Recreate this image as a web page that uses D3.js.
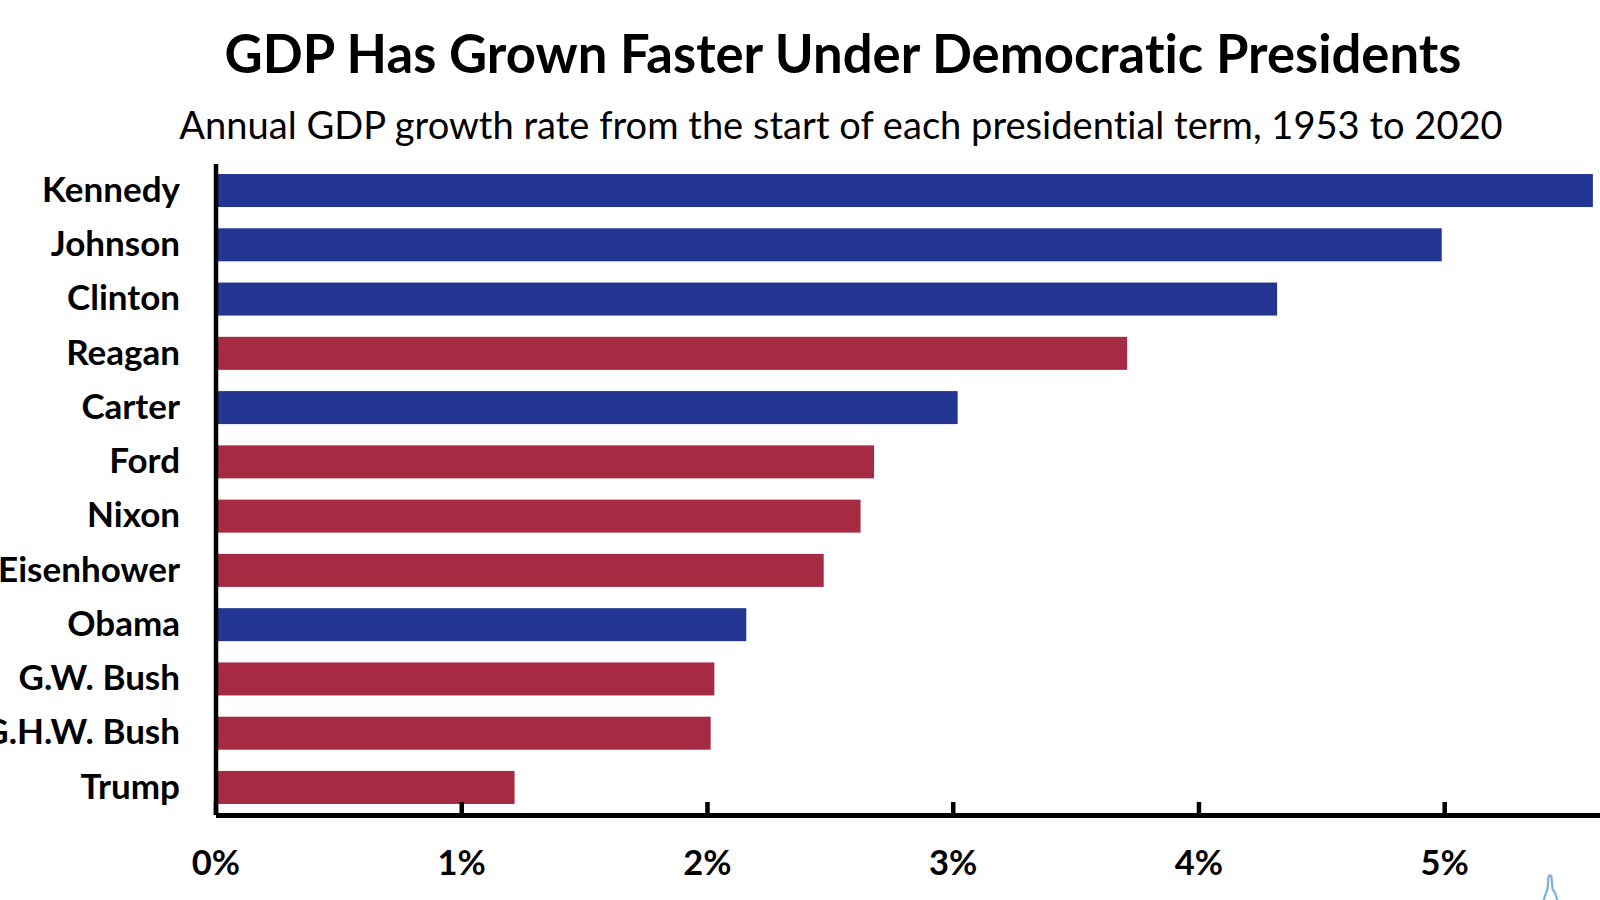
<!DOCTYPE html>
<html>
<head>
<meta charset="utf-8">
<script src="https://cdn.jsdelivr.net/npm/d3@7"></script>
<style>
  html, body { margin: 0; padding: 0; background: #fff; overflow: hidden; }
  text { font-family: Lato, sans-serif; fill: #000; font-variant-ligatures: none; }
</style>
</head>
<body>
<div id="chart"></div>
<script>
const presidents = ["Kennedy", "Johnson", "Clinton", "Reagan", "Carter", "Ford", "Nixon", "Eisenhower", "Obama", "G.W. Bush", "G.H.W. Bush", "Trump"];
const growth = [5.605, 4.99, 4.32, 3.71, 3.02, 2.68, 2.625, 2.475, 2.16, 2.03, 2.015, 1.217];
const parties = ["D", "D", "D", "R", "D", "R", "R", "R", "D", "R", "R", "R"];
const tickValues = [0, 1, 2, 3, 4, 5];

const partyColor = { D: "#233692", R: "#a62a42" };
const width = 1600, height = 900;

const svg = d3.select("#chart").append("svg")
    .attr("width", width)
    .attr("height", height)
    .style("display", "block");

// 1% is about 245.75px in the reference, axis runs off the right edge
const x = d3.scaleLinear().domain([0, 5.634]).range([215.5, width]);
const y = d3.scaleBand().domain(presidents).range([163.4, 814.6]).paddingInner(0.392).paddingOuter(0.196);

svg.append("text")
    .attr("x", 843).attr("y", 72.5)
    .attr("text-anchor", "middle")
    .attr("font-size", 52.6).attr("font-weight", 700)
    .text("GDP Has Grown Faster Under Democratic Presidents");

svg.append("text")
    .attr("x", 841).attr("y", 139)
    .attr("text-anchor", "middle")
    .attr("font-size", 38.1)
    .text("Annual GDP growth rate from the start of each presidential term, 1953 to 2020");

svg.selectAll("rect.bar")
    .data(presidents)
    .enter()
    .append("rect")
    .attr("class", "bar")
    .attr("x", x(0))
    .attr("y", d => y(d))
    .attr("width", (d, i) => x(growth[i]) - x(0))
    .attr("height", y.bandwidth())
    .attr("fill", (d, i) => partyColor[parties[i]]);

// category labels
svg.append("g")
    .attr("transform", `translate(${x(0)}, 0)`)
    .call(d3.axisLeft(y).tickSize(0).tickPadding(35.5))
    .call(g => g.select(".domain").attr("stroke", "#000").attr("stroke-width", 4.5))
    .call(g => g.selectAll("text").attr("font-size", 35).attr("font-weight", 700).style("font-family", "Lato, sans-serif"));

// x axis with ticks pointing up
svg.append("g")
    .attr("transform", "translate(0, 815)")
    .call(d3.axisBottom(x).tickValues(tickValues).tickFormat(d => d + "%").tickSizeInner(-13).tickSizeOuter(0).tickPadding(36))
    .call(g => g.select(".domain").attr("stroke", "#000").attr("stroke-width", 5))
    .call(g => g.selectAll("line").attr("stroke", "#000").attr("stroke-width", 4.5))
    .call(g => g.selectAll("text").attr("font-size", 34.5).attr("font-weight", 700).style("font-family", "Lato, sans-serif"));

// small blue spire cut off by the bottom edge of the screenshot
svg.append("path")
    .attr("d", "M1543,902 L1546,893 L1547.5,889 L1548.5,877 Q1550,873 1551.5,877 L1552.5,889 L1555,893 L1558,902")
    .attr("fill", "none")
    .attr("stroke", "#7fadde")
    .attr("stroke-width", 2.2);
</script>
</body>
</html>
